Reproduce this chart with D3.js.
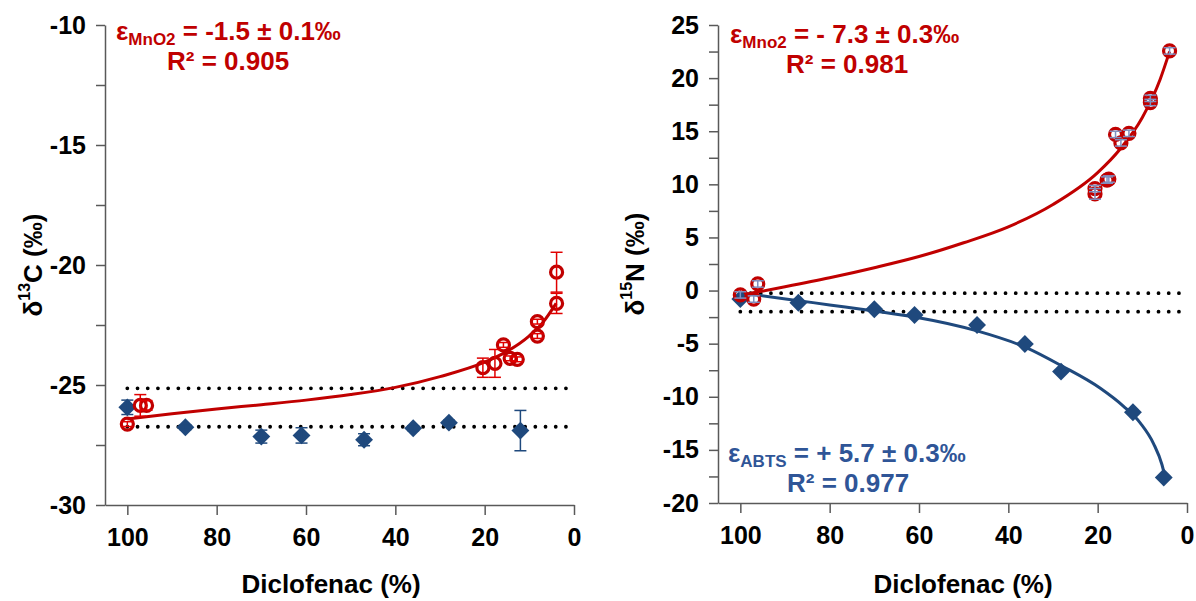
<!DOCTYPE html>
<html>
<head>
<meta charset="utf-8">
<script src="https://cdn.jsdelivr.net/npm/d3@7"></script>
<style>
  body { margin: 0; background: #fff; }
  svg { display: block; font-family: "Liberation Sans", Arial, sans-serif; }
</style>
</head>
<body>
<div id="chart"></div>
<script>
// x ticks shared by both panels (Diclofenac remaining, %)
const xTicks = [100, 80, 60, 40, 20, 0];

// Left panel: delta13C
const cMnO2X = [100, 97.1, 95.7, 20.4, 17.7, 15.8, 14.3, 12.7, 8.2, 8.2, 3.9, 3.9];
const cMnO2Y = [-26.63, -25.85, -25.85, -24.28, -24.1, -23.33, -23.89, -23.93, -22.36, -22.96, -21.6, -20.3];
const cMnO2Err = [0.1, 0.45, 0.2, 0.4, 0.58, 0.1, 0.1, 0.1, 0.1, 0.1, 0.42, 0.83];

const cAbtsX = [100, 87, 70, 61, 47, 36, 28, 12];
const cAbtsY = [-25.93, -26.76, -27.15, -27.1, -27.28, -26.8, -26.57, -26.9];
const cAbtsErr = [0.3, 0.1, 0.27, 0.32, 0.25, 0.1, 0.1, 0.84];

// Rayleigh fit line
const cFitX = [100, 90, 80, 70, 60, 50, 40, 30, 20, 15, 10, 7, 4];
const cFitY = [-26.42, -26.2, -26.0, -25.82, -25.63, -25.4, -25.1, -24.65, -24.05, -23.6, -22.95, -22.4, -21.6];

const cDotted = [-25.14, -26.74];
const cYTicks = [-30, -27.5, -25, -22.5, -20, -17.5, -15, -12.5, -10];

// Right panel: delta15N
const nMnO2X = [100, 97, 96.1, 20.6, 20.6, 17.9, 17.5, 16.0, 14.8, 13.0, 8.2, 8.2, 3.9];
const nMnO2Y = [-0.41, -0.8, 0.62, 9.6, 9.1, 10.4, 10.5, 14.7, 13.9, 14.8, 18.1, 17.7, 22.56];
const nMnO2Err = [0.3, 0.3, 0.3, 0.3, 0.5, 0.3, 0.3, 0.3, 0.3, 0.3, 0.3, 0.3, 0.3];

const nAbtsX = [100, 87, 70, 61, 47, 36.3, 28.2, 12.1, 5.2];
const nAbtsY = [-0.8, -1.15, -1.76, -2.3, -3.24, -5.03, -7.63, -11.46, -17.6];

const nMnO2FitX = [100, 90, 80, 70, 60, 50, 40, 30, 20, 15, 10, 6, 3.9];
const nMnO2FitY = [-0.45, 0.35, 1.2, 2.15, 3.2, 4.5, 6.0, 8.1, 11.1, 13.3, 16.3, 19.9, 22.5];

const nAbtsFitX = [100, 87, 80, 70, 61, 47, 36, 28, 19.4, 14.2, 10.4, 7.5, 5.6, 5.2];
const nAbtsFitY = [-0.2, -0.95, -1.35, -1.92, -2.49, -3.8, -5.37, -7.1, -9.2, -10.9, -12.5, -14.4, -16.4, -17.05];

const nDotted = [-0.25, -1.99];
const nYTicks = d3.range(-20, 25.1, 2.5);

const red = '#C00000';
const blue = '#1F497D';
const blueText = '#2F5597';
const axisColor = '#595959';

const svg = d3.select('#chart').append('svg')
  .attr('width', 1196)
  .attr('height', 601);

function zip(xs, ys, es) {
  return xs.map((x, i) => ({ x: x, y: ys[i], e: es ? es[i] : 0 }));
}

function drawPanel(opt) {
  const g = svg.append('g');
  const x = d3.scaleLinear().domain([105, 0]).range([opt.left, opt.right]);
  const y = d3.scaleLinear().domain(opt.yDomain).range([opt.bottom, opt.top]);

  // axes
  const xAxis = g.append('g')
    .attr('transform', `translate(0,${opt.bottom})`)
    .call(d3.axisBottom(x).tickValues(xTicks).tickSize(10).tickSizeOuter(0).tickPadding(13)
      .tickFormat(d => String(d)));
  const yAxis = g.append('g')
    .attr('transform', `translate(${opt.left},0)`)
    .call(d3.axisLeft(y).tickValues(opt.yTicks).tickSize(9).tickSizeOuter(0).tickPadding(10)
      .tickFormat(d => (d % 5 === 0 ? String(d) : '')));
  [xAxis, yAxis].forEach(a => {
    a.selectAll('path, line').attr('stroke', axisColor).attr('stroke-width', 1.5);
    a.selectAll('text')
      .attr('fill', '#000')
      .style('font-size', '25px')
      .style('font-weight', 'bold')
      .style('font-family', '"Liberation Sans", Arial, sans-serif');
  });

  // dotted reference lines
  opt.dotted.forEach(v => {
    g.append('line')
      .attr('x1', x(100)).attr('x2', x(0))
      .attr('y1', y(v)).attr('y2', y(v))
      .attr('stroke', '#000')
      .attr('stroke-width', 3.8)
      .attr('stroke-linecap', 'round')
      .attr('stroke-dasharray', '0 10.2');
  });

  const line = d3.line().x(d => x(d.x)).y(d => y(d.y)).curve(d3.curveMonotoneX);

  // fit curves
  opt.fits.forEach(f => {
    g.append('path')
      .datum(zip(f.xs, f.ys))
      .attr('d', line)
      .attr('fill', 'none')
      .attr('stroke', f.color)
      .attr('stroke-width', 3);
  });

  // diamonds (ABTS)
  const dia = zip(opt.abts.xs, opt.abts.ys, opt.abts.es);
  g.selectAll('.dia')
    .data(dia)
    .enter()
    .append('path')
    .attr('class', 'dia')
    .attr('d', d3.symbol().type(d3.symbolSquare).size(160))
    .attr('transform', d => `translate(${x(d.x)},${y(d.y)}) rotate(45)`)
    .attr('fill', blue);
  if (opt.abts.es) errorBars(g, dia, x, y, blue);

  // circles (MnO2)
  const circ = zip(opt.mno2.xs, opt.mno2.ys, opt.mno2.es);
  g.selectAll('.circ')
    .data(circ)
    .enter()
    .append('circle')
    .attr('class', 'circ')
    .attr('cx', d => x(d.x))
    .attr('cy', d => y(d.y))
    .attr('r', 6)
    .attr('fill', 'none')
    .attr('stroke', red)
    .attr('stroke-width', 3.2);
  errorBars(g, circ, x, y, opt.mno2.errColor);

  // y title
  const yt = g.append('text')
    .attr('transform', `translate(${opt.yTitleX},${(opt.top + opt.bottom) / 2}) rotate(-90)`)
    .attr('text-anchor', 'middle')
    .attr('dominant-baseline', 'central')
    .style('font-size', '26px')
    .style('font-weight', 'bold')
    .attr('fill', '#000');
  yt.append('tspan').text('δ');
  yt.append('tspan').attr('baseline-shift', 'super').style('font-size', '16px').text(opt.iso);
  yt.append('tspan').text(opt.elem + ' (‰)');

  // x title
  g.append('text')
    .attr('x', opt.xTitleX)
    .attr('y', 593)
    .attr('text-anchor', 'middle')
    .style('font-size', '26px')
    .style('font-weight', 'bold')
    .attr('fill', '#000')
    .text('Diclofenac (%)');
}

function errorBars(g, data, x, y, color) {
  const eb = g.selectAll(null)
    .data(data)
    .enter()
    .append('g')
    .attr('stroke', color)
    .attr('stroke-width', 1.5);
  eb.append('line')
    .attr('x1', d => x(d.x)).attr('x2', d => x(d.x))
    .attr('y1', d => y(d.y - d.e)).attr('y2', d => y(d.y + d.e));
  [1, -1].forEach(s => {
    eb.append('line')
      .attr('x1', d => x(d.x) - 6).attr('x2', d => x(d.x) + 6)
      .attr('y1', d => y(d.y + s * d.e)).attr('y2', d => y(d.y + s * d.e));
  });
}

function annotate(xPos, yPos, sub, rest, r2, r2x, color) {
  const t = svg.append('text')
    .attr('x', xPos)
    .attr('y', yPos)
    .style('font-size', '26px')
    .style('font-weight', 'bold')
    .attr('fill', color);
  t.append('tspan').text('ε');
  t.append('tspan').attr('dy', 5).style('font-size', '17px').text(sub);
  t.append('tspan').attr('dy', -5).text(rest);
  svg.append('text')
    .attr('x', r2x)
    .attr('y', yPos + 30)
    .style('font-size', '26px')
    .style('font-weight', 'bold')
    .attr('fill', color)
    .text(r2);
}

drawPanel({
  left: 105, right: 574, top: 25, bottom: 505,
  yDomain: [-30, -10], yTicks: cYTicks,
  dotted: cDotted,
  fits: [{ xs: cFitX, ys: cFitY, color: red }],
  abts: { xs: cAbtsX, ys: cAbtsY, es: cAbtsErr },
  mno2: { xs: cMnO2X, ys: cMnO2Y, es: cMnO2Err, errColor: '#E00000' },
  iso: '13', elem: 'C', yTitleX: 33, xTitleX: 331
});

drawPanel({
  left: 718, right: 1187, top: 25, bottom: 503,
  yDomain: [-20, 25], yTicks: nYTicks,
  dotted: nDotted,
  fits: [{ xs: nAbtsFitX, ys: nAbtsFitY, color: blue }, { xs: nMnO2FitX, ys: nMnO2FitY, color: red }],
  abts: { xs: nAbtsX, ys: nAbtsY, es: null },
  mno2: { xs: nMnO2X, ys: nMnO2Y, es: nMnO2Err, errColor: '#7F8FBF' },
  iso: '15', elem: 'N', yTitleX: 635, xTitleX: 963
});

annotate(116, 40, 'MnO2', ' = -1.5 ± 0.1‰', 'R² = 0.905', 167, red);
annotate(730, 43, 'Mno2', ' = - 7.3 ± 0.3‰', 'R² = 0.981', 786, red);
annotate(728, 462, 'ABTS', ' = + 5.7 ± 0.3‰', 'R² = 0.977', 787, blueText);
</script>
</body>
</html>
